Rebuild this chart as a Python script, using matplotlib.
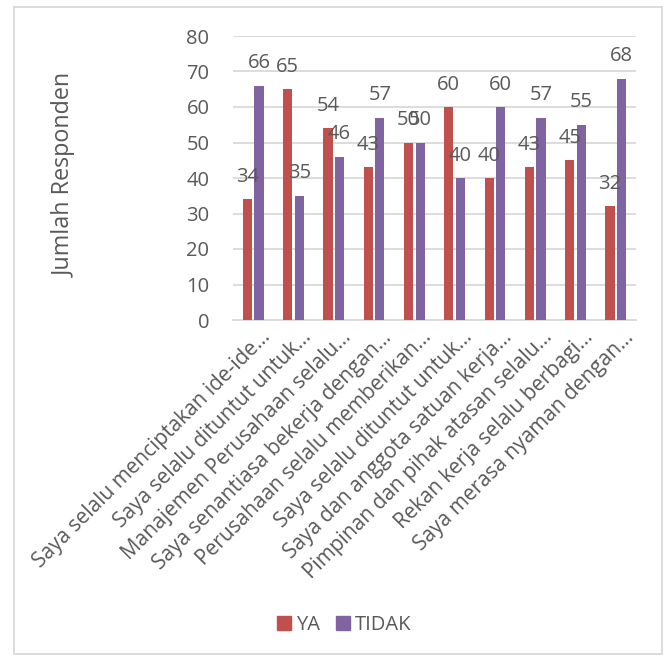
"""Grafik batang jumlah responden YA / TIDAK per pernyataan."""

import matplotlib
matplotlib.use("Agg")
import matplotlib.pyplot as plt
import numpy as np
from matplotlib.patches import Patch, Rectangle
from matplotlib.transforms import ScaledTranslation

# DATA

pernyataan = [
    "Saya selalu menciptakan ide-ide…",
    "Saya selalu dituntut untuk…",
    "Manajemen Perusahaan selalu…",
    "Saya senantiasa bekerja dengan…",
    "Perusahaan selalu memberikan…",
    "Saya selalu dituntut untuk…",
    "Saya dan anggota satuan kerja…",
    "Pimpinan dan pihak atasan selalu…",
    "Rekan kerja selalu berbagi…",
    "Saya merasa nyaman dengan…",
]
ya = [34, 65, 54, 43, 50, 60, 40, 43, 45, 32]
tidak = [66, 35, 46, 57, 50, 40, 60, 57, 55, 68]
y_ticks = [0, 10, 20, 30, 40, 50, 60, 70, 80]

# GAYA

plt.rcParams["font.family"] = ["Open Sans", "DejaVu Sans"]
TEXT = "#595959"
GRID = "#D9D9D9"
RED = "#C0504D"
PURPLE = "#8064A2"

W, H = 670, 656
fig = plt.figure(figsize=(W / 100, H / 100), dpi=100)

# bingkai area grafik
fig.patches.append(Rectangle((13.5 / W, 1 - 654 / H), (662 - 13.5) / W, (654 - 7) / H,
                             transform=fig.transFigure, fill=False,
                             edgecolor=GRID, linewidth=1.3))

ax = fig.add_axes([233 / W, 1 - 320 / H, (636 - 233) / W, (320 - 36) / H])

x = np.arange(len(pernyataan))
width = 0.23
offset = 0.144
bars_ya = ax.bar(x - offset, ya, width, color=RED, zorder=3)
bars_tidak = ax.bar(x + offset, tidak, width, color=PURPLE, zorder=3)

for bars, values in ((bars_ya, ya), (bars_tidak, tidak)):
    for bar, v in zip(bars, values):
        ax.annotate(str(v), (bar.get_x() + bar.get_width() / 2, v),
                    textcoords="offset points", xytext=(0, 12.5),
                    ha="center", va="baseline", fontsize=14.5, color=TEXT)

ax.set_xlim(-0.5, len(pernyataan) - 0.5)
ax.set_ylim(0, 80)
ax.set_yticks(y_ticks)
ax.yaxis.grid(True, color=GRID, linewidth=1.3, zorder=0)
ax.tick_params(axis="y", length=0, pad=17, labelsize=14.5, labelcolor=TEXT)
ax.tick_params(axis="x", length=0, pad=1)

ax.set_xticks(x)
ax.set_xticklabels(pernyataan, rotation=45, ha="right", va="top",
                   rotation_mode="anchor", fontsize=15, color=TEXT)
# geser sedikit label miring ke kanan bawah
shift = ScaledTranslation(5 / 72, -4 / 72, fig.dpi_scale_trans)
for label in ax.get_xticklabels():
    label.set_transform(label.get_transform() + shift)

for side in ("top", "right", "left"):
    ax.spines[side].set_visible(False)
ax.spines["bottom"].set_color(GRID)
ax.spines["bottom"].set_linewidth(1.3)

fig.text(65 / W, 1 - 175 / H, "Jumlah Responden", rotation=90,
         ha="center", va="center", fontsize=16.8, color=TEXT)

handles = [Patch(color=RED, label="YA"), Patch(color=PURPLE, label="TIDAK")]
fig.legend(handles=handles, loc="center", bbox_to_anchor=(344 / W, 1 - 625 / H),
           ncol=2, frameon=False, fontsize=14.5, labelcolor=TEXT,
           handlelength=0.7, handleheight=0.7, handletextpad=0.25,
           columnspacing=0.8)

fig.savefig("out.png", dpi=100)
